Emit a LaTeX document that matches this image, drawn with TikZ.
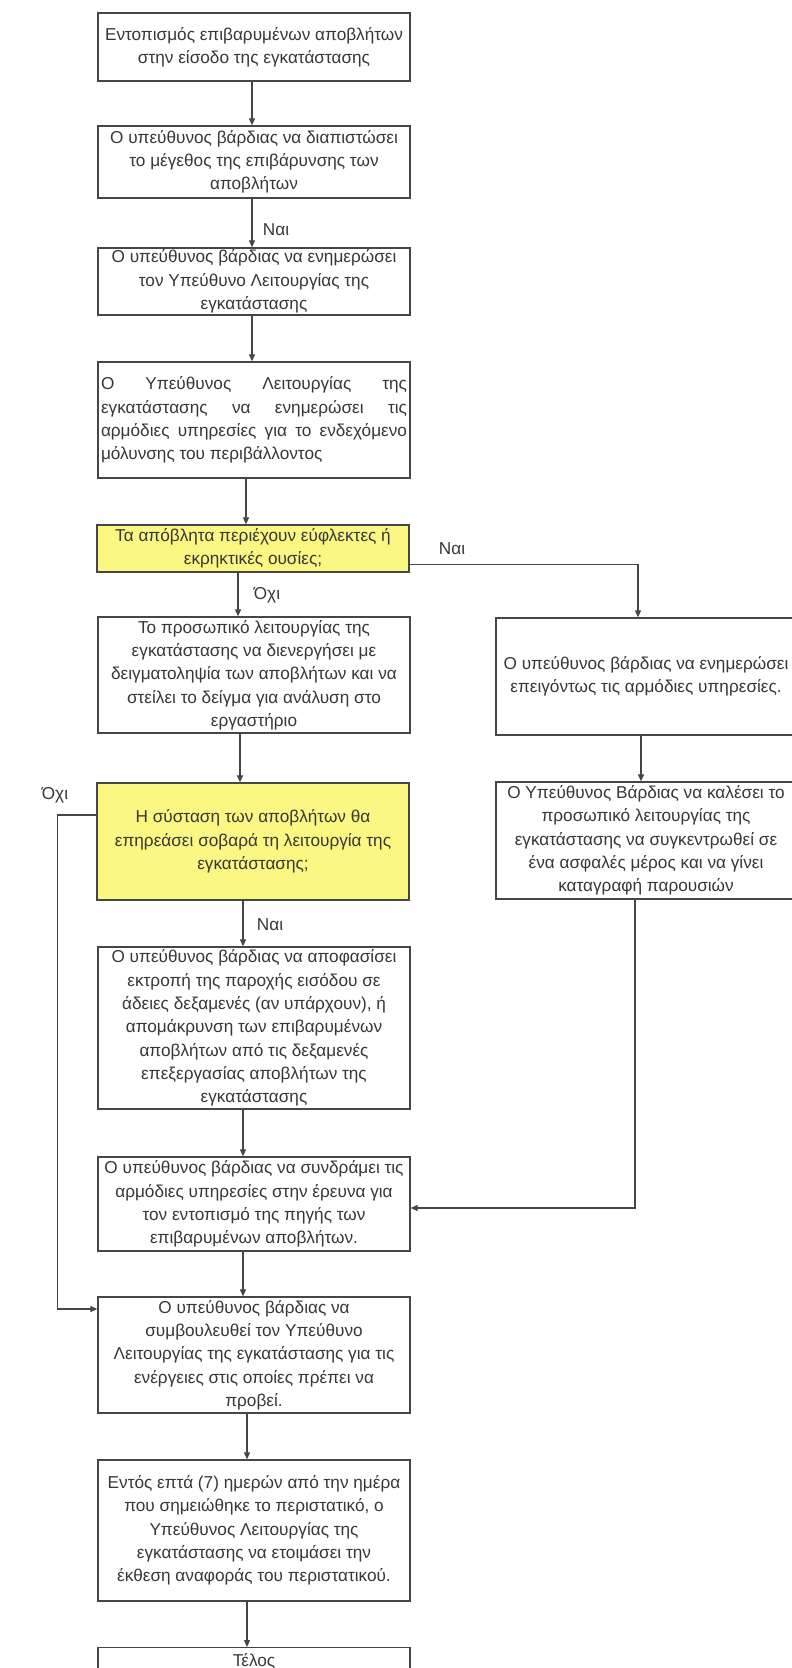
\documentclass[tikz,border=0pt]{standalone}
\usepackage{fontspec}
\setmainfont{Liberation Sans}
\usetikzlibrary{arrows.meta}
\definecolor{linec}{RGB}{70,70,70}
\definecolor{txtc}{RGB}{55,55,55}
\definecolor{decfill}{RGB}{250,247,130}
\newcommand{\boxfont}{\fontsize{17.2}{23.3}\selectfont}
\newcommand{\jl}[1]{\makebox[306pt][s]{#1}}
\begin{document}
\begin{tikzpicture}[x=1pt,y=-1pt,
  box/.style={draw=linec, line width=1.3pt, minimum width=312pt, inner sep=0pt, align=center, font=\boxfont, text=txtc},
  rbox/.style={box, minimum width=300pt},
  dec/.style={box, fill=decfill},
  conn/.style={draw=linec, line width=1.1pt, -{Triangle[length=7pt,width=6pt]}},
  lbl/.style={font=\boxfont, text=txtc, inner sep=0pt}]
\fill[white] (0,0) rectangle (792,1668);
\useasboundingbox (0,0) rectangle (792,1668);
\clip (0,0) rectangle (792,1668);

% main column
\node[box, minimum height=68pt] (b1) at (254,47) {Εντοπισμός επιβαρυμένων αποβλήτων\\στην είσοδο της εγκατάστασης};
\node[box, minimum height=72pt] (b2) at (254,162) {Ο υπεύθυνος βάρδιας να διαπιστώσει\\το μέγεθος της επιβάρυνσης των\\αποβλήτων};
\node[box, minimum height=67pt] (b3) at (254,281.5) {Ο υπεύθυνος βάρδιας να ενημερώσει\\τον Υπεύθυνο Λειτουργίας της\\εγκατάστασης};
\node[box, minimum height=116pt] (b4) at (254,420) {\jl{Ο\hfill Υπεύθυνος\hfill Λειτουργίας\hfill της}\\\jl{εγκατάστασης\hfill να\hfill ενημερώσει\hfill τις}\\\jl{αρμόδιες υπηρεσίες για το ενδεχόμενο}\\\makebox[306pt][l]{μόλυνσης του περιβάλλοντος}};
\node[dec, minimum height=47pt] (d1) at (253,548.5) {Τα απόβλητα περιέχουν εύφλεκτες ή\\εκρηκτικές ουσίες;};
\node[box, minimum height=116pt] (b5) at (254,675) {Το προσωπικό λειτουργίας της\\εγκατάστασης να διενεργήσει με\\δειγματοληψία των αποβλήτων και να\\στείλει το δείγμα για ανάλυση στο\\εργαστήριο};
\node[dec, minimum height=117pt] (d2) at (253,841.5) {Η σύσταση των αποβλήτων θα\\επηρεάσει σοβαρά τη λειτουργία της\\εγκατάστασης;};
\node[box, minimum height=162pt] (b6) at (254,1028) {Ο υπεύθυνος βάρδιας να αποφασίσει\\εκτροπή της παροχής εισόδου σε\\άδειες δεξαμενές (αν υπάρχουν), ή\\απομάκρυνση των επιβαρυμένων\\αποβλήτων από τις δεξαμενές\\επεξεργασίας αποβλήτων της\\εγκατάστασης};
\node[box, minimum height=94pt] (b7) at (254,1204) {Ο υπεύθυνος βάρδιας να συνδράμει τις\\αρμόδιες υπηρεσίες στην έρευνα για\\τον εντοπισμό της πηγής των\\επιβαρυμένων αποβλήτων.};
\node[box, minimum height=116pt] (b8) at (254,1355) {Ο υπεύθυνος βάρδιας να\\συμβουλευθεί τον Υπεύθυνο\\Λειτουργίας της εγκατάστασης για τις\\ενέργειες στις οποίες πρέπει να\\προβεί.};
\node[box, minimum height=141pt] (b9) at (254,1530.5) {Εντός επτά (7) ημερών από την ημέρα\\που σημειώθηκε το περιστατικό, ο\\Υπεύθυνος Λειτουργίας της\\εγκατάστασης να ετοιμάσει την\\έκθεση αναφοράς του περιστατικού.};
\node[box, minimum height=28pt, anchor=north] (b10) at (254,1647) {Τέλος};

% right column
\node[rbox, minimum height=117pt] (r1) at (646,676.5) {Ο υπεύθυνος βάρδιας να ενημερώσει\\επειγόντως τις αρμόδιες υπηρεσίες.};
\node[rbox, minimum height=117pt] (r2) at (646,840.5) {Ο Υπεύθυνος Βάρδιας να καλέσει το\\προσωπικό λειτουργίας της\\εγκατάστασης να συγκεντρωθεί σε\\ένα ασφαλές μέρος και να γίνει\\καταγραφή παρουσιών};

% labels
\node[lbl] (l1) at (276,230) {Ναι};
\node[lbl] (l2) at (267,595) {Όχι};
\node[lbl] (l3) at (452,549) {Ναι};
\node[lbl] (l4) at (55,795) {Όχι};
\node[lbl] (l5) at (270,925) {Ναι};

% connectors
\draw[conn] ([xshift=-2pt]b1.south) -- ([xshift=-2pt]b2.north);
\draw[conn] ([xshift=-2pt]b2.south) -- ([xshift=-2pt]b3.north);
\draw[conn] ([xshift=-2pt]b3.south) -- ([xshift=-2pt]b4.north);
\draw[conn] ([xshift=-8pt]b4.south) -- ([xshift=-8pt]b4.south |- d1.north);
\draw[conn] ([xshift=-15pt]d1.south) -- ([xshift=-15pt]d1.south |- b5.north);
\draw[conn] ([xshift=-14pt]b5.south) -- ([xshift=-14pt]b5.south |- d2.north);
\draw[conn] ([xshift=-10pt]d2.south) -- ([xshift=-10pt]d2.south |- b6.north);
\draw[conn] ([xshift=-11pt]b6.south) -- ([xshift=-11pt]b6.south |- b7.north);
\draw[conn] ([xshift=-11pt]b7.south) -- ([xshift=-11pt]b7.south |- b8.north);
\draw[conn] ([xshift=-7pt]b8.south) -- ([xshift=-7pt]b8.south |- b9.north);
\draw[conn] ([xshift=-7pt]b9.south) -- ([xshift=-7pt]b9.south |- b10.north);
\draw[conn] ([yshift=-16pt]d1.east) -| ([xshift=-8pt]r1.north);
\draw[conn] ([xshift=-5pt]r1.south) -- ([xshift=-5pt]r2.north);
\draw[conn] ([xshift=-11pt]r2.south) |- ([yshift=-4pt]b7.east);
\draw[conn] ([yshift=26.5pt]d2.west) -- ++(-39,0) |- ([yshift=46pt]b8.west);
\end{tikzpicture}
\end{document}
